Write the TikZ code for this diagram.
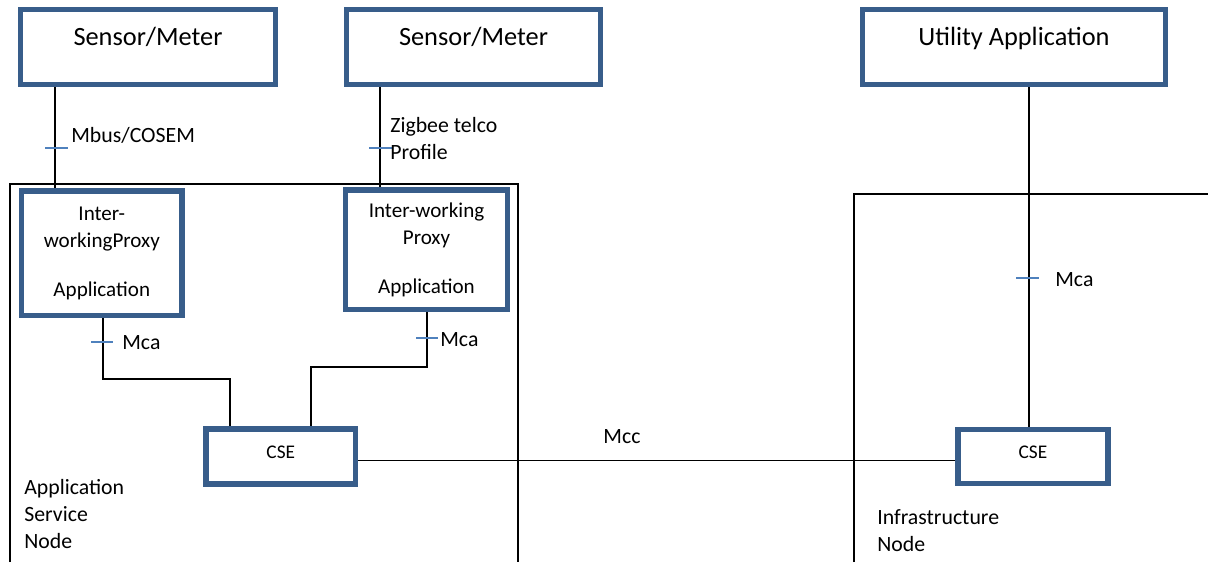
\documentclass[tikz,border=0pt]{standalone}
\usepackage{fontspec}
\setmainfont{Carlito}
\definecolor{boxblue}{RGB}{56,93,138}
\definecolor{tickblue}{RGB}{79,129,189}

\begin{document}
\begin{tikzpicture}[x=0.02cm,y=-0.02cm,
  bloc/.style={draw=boxblue, line width=3pt},
  titre/.style={font=\fontsize{15}{18}\selectfont},
  petit/.style={font=\fontsize{11}{13}\selectfont},
  fil/.style={line width=1.1pt},
  trait/.style={draw=tickblue, line width=0.9pt},
  lbl/.style={inner sep=0pt, anchor=west, align=left, font=\fontsize{12.4}{15.3}\selectfont}]
\useasboundingbox (0,0) rectangle (1208,562);

%les noeuds (ouverts en bas)
\draw[fil] (10,562) -- (10,184) -- (518,184) -- (518,562);
\draw[fil] (854,562) -- (854,194) -- (1208,194);

%les boites
\node[bloc, minimum width=5.09cm, minimum height=1.51cm,
  label={[titre, yshift=0.2cm]center:Sensor/Meter}] (sm1) at (148,47) {};
\node[bloc, minimum width=5.09cm, minimum height=1.51cm,
  label={[titre, yshift=0.2cm]center:Sensor/Meter}] (sm2) at (473.5,47) {};
\node[bloc, minimum width=6.05cm, minimum height=1.51cm,
  label={[titre, yshift=0.18cm]center:Utility Application}] (ua) at (1014,47) {};

\node[bloc, minimum width=3.21cm, minimum height=2.49cm, align=center,
  font=\fontsize{12}{15.5}\selectfont] (iw1) at (101.8,253.3)
  {Inter-\\workingProxy\\[12pt]Application};
\node[bloc, minimum width=3.24cm, minimum height=2.39cm, align=center,
  font=\fontsize{12}{15.5}\selectfont] (iw2) at (426.5,249.8)
  {Inter-working\\Proxy\\[12pt]Application};

\node[bloc, minimum width=2.99cm, minimum height=1.1cm,
  label={[petit, yshift=0.09cm]center:CSE}] (cse1) at (280.8,456.5) {};
\node[bloc, minimum width=3cm, minimum height=1.08cm,
  label={[petit, yshift=0.09cm]center:CSE}] (cse2) at (1033,456.5) {};

%les liens
\draw[fil] (sm1.south -| 55,0) -- (iw1.north -| 55,0);
\draw[fil] (sm2.south -| 380,0) -- (iw2.north -| 380,0);
\draw[fil] (iw1.south -| 103,0) -- (103,379) -| (cse1.north -| 230,0);
\draw[fil] (iw2.south -| 427,0) -- (427,367) -| (cse1.north -| 311,0);
\draw[fil] (cse1.east |- 0,460.5) -- (cse2.west |- 0,460.5);
\draw[fil] (ua.south -| 1029,0) -- (cse2.north -| 1029,0);

%petits traits
\draw[trait] (45,148) -- (68,148);
\draw[trait] (369,148) -- (392,148);
\draw[trait] (91,342) -- (113,342);
\draw[trait] (416,338) -- (438,338);
\draw[trait] (1016,278) -- (1039,278);

%etiquettes
\node[lbl] (mbus) at (71,135) {Mbus/COSEM};
\node[lbl] (zigbee) at (390,138.5) {Zigbee telco\\Profile};
\node[lbl] (mca1) at (122,343) {Mca};
\node[lbl] (mca2) at (440,340) {Mca};
\node[lbl] (mca3) at (1055,280) {Mca};
\node[lbl, anchor=center] (mcc) at (622,437) {Mcc};
\node[lbl] (asn) at (24,514) {Application\\Service\\Node};
\node[lbl] (infra) at (877,530.5) {Infrastructure\\Node};

\end{tikzpicture}
\end{document}
